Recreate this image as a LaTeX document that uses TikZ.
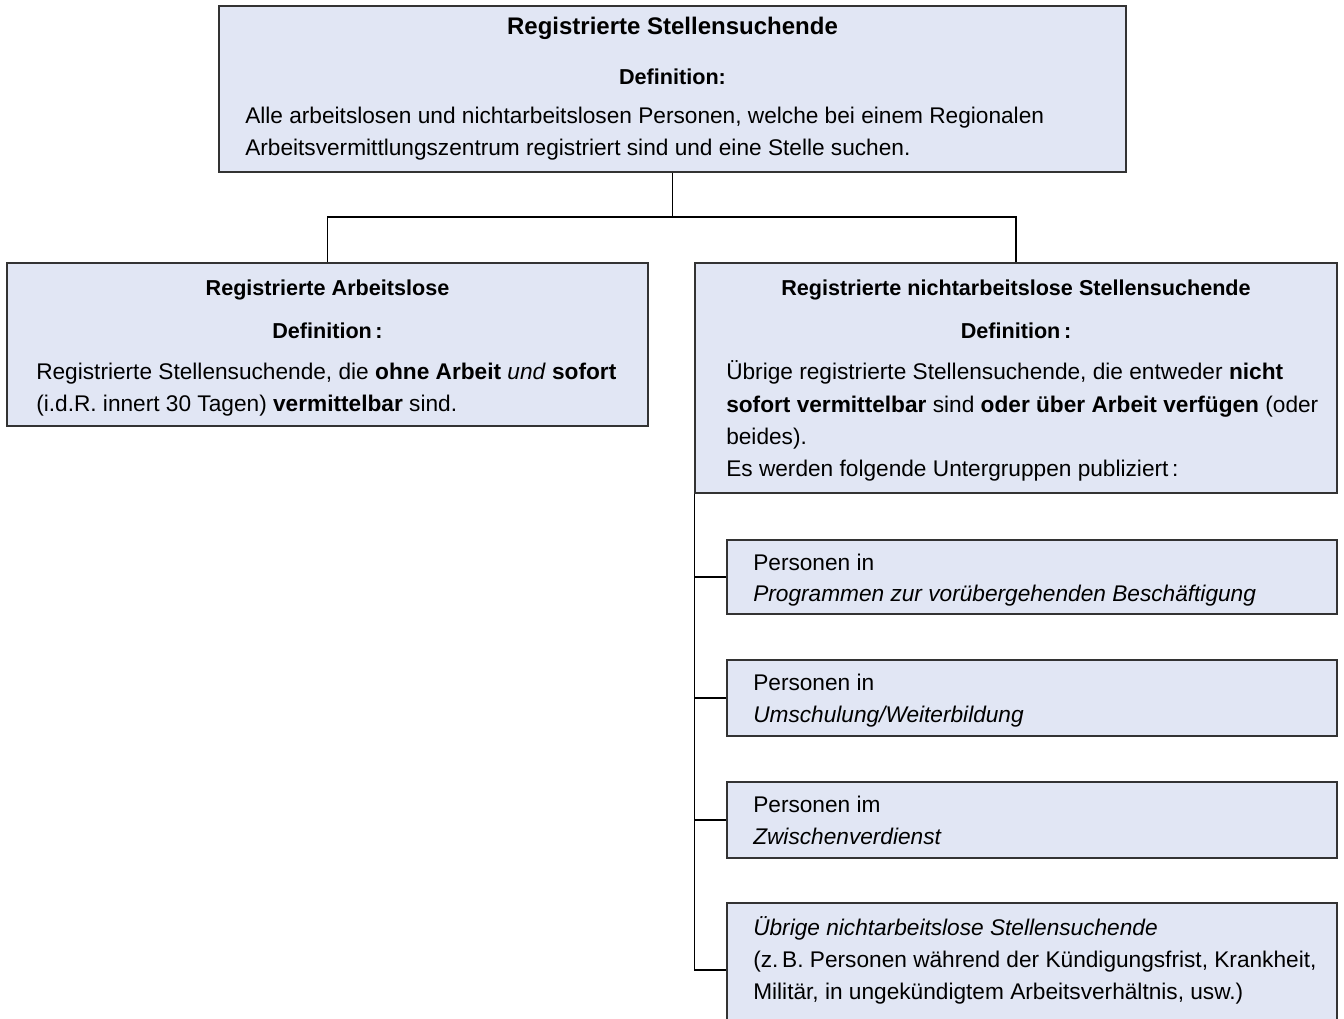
\documentclass[tikz,border=0pt]{standalone}
\usepackage{fontspec}
\setmainfont{Liberation Sans}
\usetikzlibrary{fit,calc}
\definecolor{boxfill}{HTML}{E1E6F4}
\definecolor{boxline}{HTML}{333333}
\begin{document}
\begin{tikzpicture}[x=0.75pt,y=-0.75pt,
  box/.style={draw=boxline,fill=boxfill,line width=1pt,rectangle,inner sep=0pt},
  conn/.style={draw=black,line width=0.9pt},
  body/.style={font=\fontsize{17}{24}\selectfont,inner sep=0pt,anchor=mid west,yshift=-3pt},
  bigtitle/.style={font=\fontsize{18}{24}\selectfont\bfseries,inner sep=0pt,anchor=mid,yshift=-3pt},
  title/.style={font=\fontsize{16.2}{24}\selectfont\bfseries,inner sep=0pt,anchor=mid,yshift=-3pt}]
\useasboundingbox (0,0) rectangle (1344,1018);
\clip (0,0) rectangle (1344,1018);
% boxes
\node[box,fit={(219,6) (1126,172)}] (top) {};
\node[box,fit={(7,263) (648,426)}] (lb) {};
\node[box,fit={(695,263) (1337,493)}] (rb) {};
\node[box,fit={(727,540) (1337,614)}] (s1) {};
\node[box,fit={(727,660) (1337,736)}] (s2) {};
\node[box,fit={(727,782) (1337,858)}] (s3) {};
\node[box,fit={(727,903) (1337,1037)}] (s4) {};
% connectors
\coordinate (jn) at (672.5,217);
\draw[conn] (top.south) -- (jn);
\draw[conn] (lb.north) |- (jn) -| (rb.north);
\draw[conn] (rb.south west) |- (s4.west);
\draw[conn] (rb.south west |- s1.west) -- (s1.west);
\draw[conn] (rb.south west |- s2.west) -- (s2.west);
\draw[conn] (rb.south west |- s3.west) -- (s3.west);
% top text
\node[bigtitle] (t0) at (672.5,27) {Registrierte Stellensuchende};
\node[title] (t1) at (672.5,77) {Definition:};
\node[body] (t2) at (245,116) {Alle arbeitslosen und nichtarbeitslosen Personen, welche bei einem Regionalen};
\node[body] (t3) at (245,148) {Arbeitsvermittlungszentrum registriert sind und eine Stelle suchen.};
% left text
\node[title] (l0) at (327.5,288) {Registrierte Arbeitslose};
\node[title] (l1) at (327.5,331) {Definition\,:};
\node[body] (l2) at (36,372) {Registrierte Stellensuchende, die \textbf{ohne Arbeit} \textit{und} \textbf{sofort}};
\node[body] (l3) at (36,404) {(i.d.R. innert 30 Tagen) \textbf{vermittelbar} sind.};
% right text
\node[title] (r0) at (1016,288) {Registrierte nichtarbeitslose Stellensuchende};
\node[title] (r1) at (1016,331) {Definition\,:};
\node[body] (r2) at (726,372) {Übrige registrierte Stellensuchende, die entweder \textbf{nicht}};
\node[body] (r3) at (726,405) {\textbf{sofort vermittelbar} sind \textbf{oder über Arbeit verfügen} (oder};
\node[body] (r4) at (726,437) {beides).};
\node[body] (r5) at (726,469) {Es werden folgende Untergruppen publiziert\,:};
% sub texts
\node[body] (a1) at (753,563) {Personen in};
\node[body] (a2) at (753,594) {\textit{Programmen zur vorübergehenden Beschäftigung}};
\node[body] (b1) at (753,683) {Personen in};
\node[body] (b2) at (753,715) {\textit{Umschulung/Weiterbildung}};
\node[body] (c1) at (753,805) {Personen im};
\node[body] (c2) at (753,837) {\textit{Zwischenverdienst}};
\node[body] (d1) at (753,928) {\textit{Übrige nichtarbeitslose Stellensuchende}};
\node[body] (d2) at (753,960) {(z.\,B. Personen während der Kündigungsfrist, Krankheit,};
\node[body] (d3) at (753,992) {Militär, in ungekündigtem Arbeitsverhältnis, usw.)};
\end{tikzpicture}
\end{document}
